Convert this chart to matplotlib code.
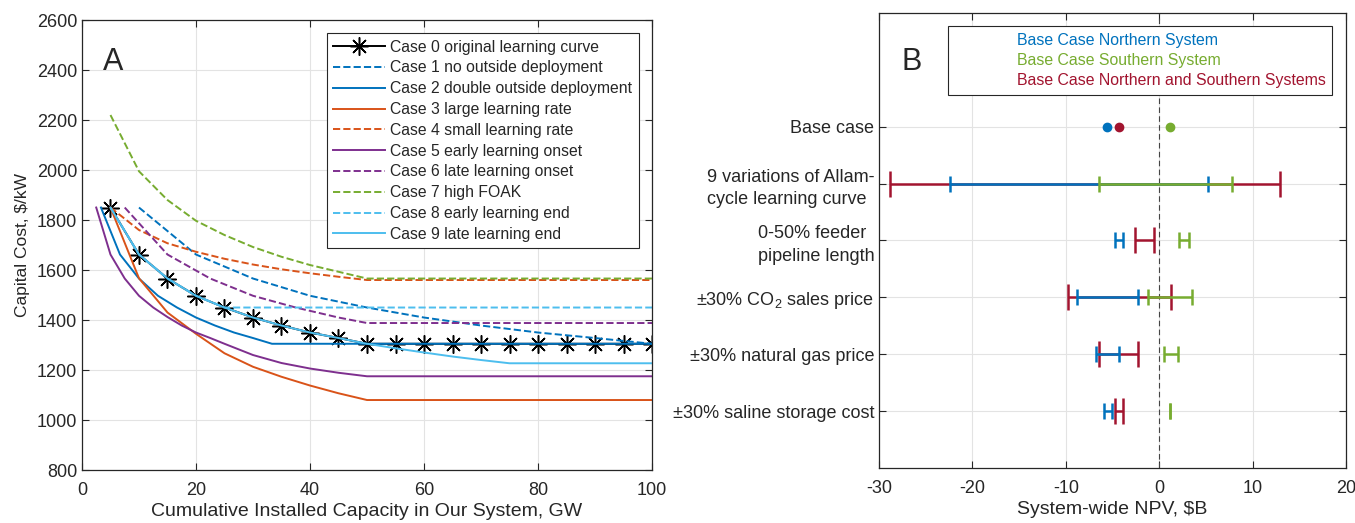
import matplotlib
matplotlib.use("Agg")
import matplotlib.pyplot as plt
from matplotlib.lines import Line2D

# Panel A: learning curves (GW, $/kW)
case0_x = [5, 10, 15, 20, 25, 30, 35, 40, 45, 50, 55, 60, 65, 70, 75, 80, 85, 90, 95, 100]
case0_y = [1850, 1662, 1566, 1497, 1450, 1410, 1378, 1350, 1328, 1305,
           1305, 1305, 1305, 1305, 1305, 1305, 1305, 1305, 1305, 1305]
case1_x = [10, 20, 30, 40, 50, 60, 70, 80, 90, 100]
case1_y = [1850, 1662, 1566, 1497, 1450, 1410, 1378, 1350, 1328, 1305]
case2_x = [3.33, 6.67, 10, 13.33, 16.67, 20, 23.33, 26.67, 30, 33.33, 100]
case2_y = [1850, 1662, 1566, 1497, 1450, 1410, 1378, 1350, 1328, 1305, 1305]
case3_x = [5, 10, 15, 20, 25, 30, 35, 40, 45, 50, 100]
case3_y = [1850, 1567, 1430, 1345, 1267, 1213, 1173, 1138, 1107, 1080, 1080]
case4_x = [5, 10, 15, 20, 25, 30, 35, 40, 45, 50, 100]
case4_y = [1850, 1760, 1707, 1673, 1645, 1622, 1603, 1587, 1573, 1560, 1560]
case5_x = [2.5, 5, 7.5, 10, 12.5, 15, 17.5, 20, 22.5, 25, 30, 35, 40, 45, 50, 100]
case5_y = [1850, 1662, 1566, 1497, 1450, 1412, 1378, 1350, 1328, 1305,
           1260, 1228, 1206, 1189, 1175, 1175]
case6_x = [7.5, 15, 22.5, 30, 37.5, 45, 50, 100]
case6_y = [1850, 1662, 1566, 1497, 1450, 1410, 1388, 1388]
case7_x = [5, 10, 15, 20, 25, 30, 35, 40, 45, 50, 100]
case7_y = [2220, 1995, 1880, 1797, 1740, 1692, 1653, 1620, 1593, 1566, 1566]
case8_x = [5, 10, 15, 20, 25, 100]
case8_y = [1850, 1662, 1566, 1497, 1450, 1450]
case9_x = [5, 10, 15, 20, 25, 30, 35, 40, 45, 50, 55, 60, 65, 70, 75, 100]
case9_y = [1850, 1662, 1566, 1497, 1450, 1410, 1378, 1350, 1328, 1305,
           1287, 1270, 1254, 1240, 1227, 1227]
case_labels = ["Case 0 original learning curve", "Case 1 no outside deployment",
               "Case 2 double outside deployment", "Case 3 large learning rate",
               "Case 4 small learning rate", "Case 5 early learning onset",
               "Case 6 late learning onset", "Case 7 high FOAK",
               "Case 8 early learning end", "Case 9 late learning end"]

# Panel B: NPV sensitivity ($B)
categories = ["Base case", "9 variations of Allam-\ncycle learning curve",
              "0-50% feeder\npipeline length", "\u00b130% CO$_2$ sales price",
              "\u00b130% natural gas price", "\u00b130% saline storage cost"]
series_names = ["Base Case Northern System", "Base Case Southern System",
                "Base Case Northern and Southern Systems"]
base_north, base_south, base_both = -5.56, 1.16, -4.31
north_lo = [-22.4, -4.77, -8.75, -6.81, -5.93]
north_hi = [5.19, -3.84, -2.31, -4.26, -5.09]
south_lo = [-6.48, 2.08, -1.16, 0.51, 1.12]
south_hi = [7.82, 3.24, 3.56, 1.99, 1.20]
both_lo = [-28.8, -2.55, -9.77, -6.39, -4.77]
both_hi = [12.9, -0.60, 1.25, -2.31, -3.89]

BLUE = "#0072BD"
ORANGE = "#D95319"
PURPLE = "#7E2F8E"
GREEN = "#77AC30"
LBLUE = "#4DBEEE"
RED = "#A2142F"
DARK = "#262626"

plt.rcParams["font.family"] = ["Liberation Sans", "DejaVu Sans"]
plt.rcParams["mathtext.fontset"] = "custom"
plt.rcParams["mathtext.rm"] = "Liberation Sans"
plt.rcParams["mathtext.it"] = "Liberation Sans"
plt.rcParams["font.size"] = 13
plt.rcParams["axes.unicode_minus"] = False
for k in ["axes.edgecolor", "text.color", "xtick.color", "ytick.color", "axes.labelcolor"]:
    plt.rcParams[k] = DARK
plt.rcParams["xtick.direction"] = "in"
plt.rcParams["ytick.direction"] = "in"
plt.rcParams["xtick.top"] = True
plt.rcParams["ytick.right"] = True
plt.rcParams["xtick.major.size"] = 5
plt.rcParams["ytick.major.size"] = 5
plt.rcParams["xtick.major.pad"] = 8.5
plt.rcParams["axes.linewidth"] = 0.9

fig = plt.figure(figsize=(13.55, 5.23), dpi=100)
axA = fig.add_axes([0.0605, 0.1013, 0.4207, 0.8604])
axB = fig.add_axes([0.6487, 0.1052, 0.3446, 0.870])

# ---- Panel A ----
lw = 1.4
axA.plot(case0_x, case0_y, color="k", lw=lw, marker=(8, 2, 0), ms=13, mew=1.1,
         label=case_labels[0])
axA.plot(case1_x, case1_y, color=BLUE, lw=lw, ls="--", label=case_labels[1])
axA.plot(case2_x, case2_y, color=BLUE, lw=lw, label=case_labels[2])
axA.plot(case3_x, case3_y, color=ORANGE, lw=lw, label=case_labels[3])
axA.plot(case4_x, case4_y, color=ORANGE, lw=lw, ls="--", label=case_labels[4])
axA.plot(case5_x, case5_y, color=PURPLE, lw=lw, label=case_labels[5])
axA.plot(case6_x, case6_y, color=PURPLE, lw=lw, ls="--", label=case_labels[6])
axA.plot(case7_x, case7_y, color=GREEN, lw=lw, ls="--", label=case_labels[7])
axA.plot(case8_x, case8_y, color=LBLUE, lw=lw, ls="--", label=case_labels[8])
axA.plot(case9_x, case9_y, color=LBLUE, lw=lw, label=case_labels[9])

axA.set_xlim(0, 100)
axA.set_ylim(800, 2600)
axA.set_xticks(range(0, 101, 20))
axA.set_yticks(range(800, 2601, 200))
axA.grid(True, color="#e3e3e3", lw=0.8)
axA.set_axisbelow(True)
axA.set_xlabel("Cumulative Installed Capacity in Our System, GW", fontsize=14, labelpad=3)
axA.set_ylabel("Capital Cost, $/kW", fontsize=12.5, labelpad=5)
axA.text(0.037, 0.907, "A", transform=axA.transAxes, fontsize=22, va="center", ha="left")
legA = axA.legend(loc="upper right", fontsize=11.3, handlelength=3.3, handletextpad=0.35,
                  labelspacing=0.37, borderpad=0.4, borderaxespad=0.85, fancybox=False,
                  framealpha=1, edgecolor=DARK)
legA.get_frame().set_linewidth(0.8)

# ---- Panel B ----
rows = list(range(2, 2 + len(north_lo)))


def range_bars(ax, lo, hi, color, cap):
    mid = [(a + b) / 2 for a, b in zip(lo, hi)]
    half = [(b - a) / 2 for a, b in zip(lo, hi)]
    ax.errorbar(mid, rows, xerr=half, fmt="none", ecolor=color, elinewidth=1.8,
                capsize=cap, capthick=1.8, zorder=3)


axB.axvline(0, color="#444444", lw=0.8, ls=(0, (5, 3)), zorder=2)
range_bars(axB, both_lo, both_hi, RED, 9.5)
range_bars(axB, north_lo, north_hi, BLUE, 5.5)
range_bars(axB, south_lo, south_hi, GREEN, 5.5)
axB.plot([base_north], [1], "o", color=BLUE, ms=6, zorder=4)
axB.plot([base_both], [1], "o", color=RED, ms=6, zorder=4)
axB.plot([base_south], [1], "o", color=GREEN, ms=6, zorder=4)

axB.set_xlim(-30, 20)
axB.set_ylim(7, -1)
axB.set_xticks(range(-30, 21, 10))
axB.set_yticks(range(1, 7))
axB.set_yticklabels(categories)
for t in axB.get_yticklabels():
    t.set_multialignment("left")
    t.set_linespacing(1.45)
axB.grid(True, color="#e3e3e3", lw=0.8)
axB.set_axisbelow(True)
axB.set_xlabel("System-wide NPV, $B", fontsize=14, labelpad=3)
axB.text(0.049, 0.892, "B", transform=axB.transAxes, fontsize=22, va="center", ha="left")

proxies = [Line2D([], [], color=c, ls="none") for c in (BLUE, GREEN, RED)]
legB = axB.legend(proxies, series_names, loc="upper right", fontsize=11.4,
                  labelcolor="linecolor", handlelength=3.6, handletextpad=0.4,
                  labelspacing=0.33, borderpad=0.4, borderaxespad=0.85, fancybox=False,
                  framealpha=1, edgecolor=DARK)
legB.get_frame().set_linewidth(0.8)

fig.savefig("out.png", dpi=100)
